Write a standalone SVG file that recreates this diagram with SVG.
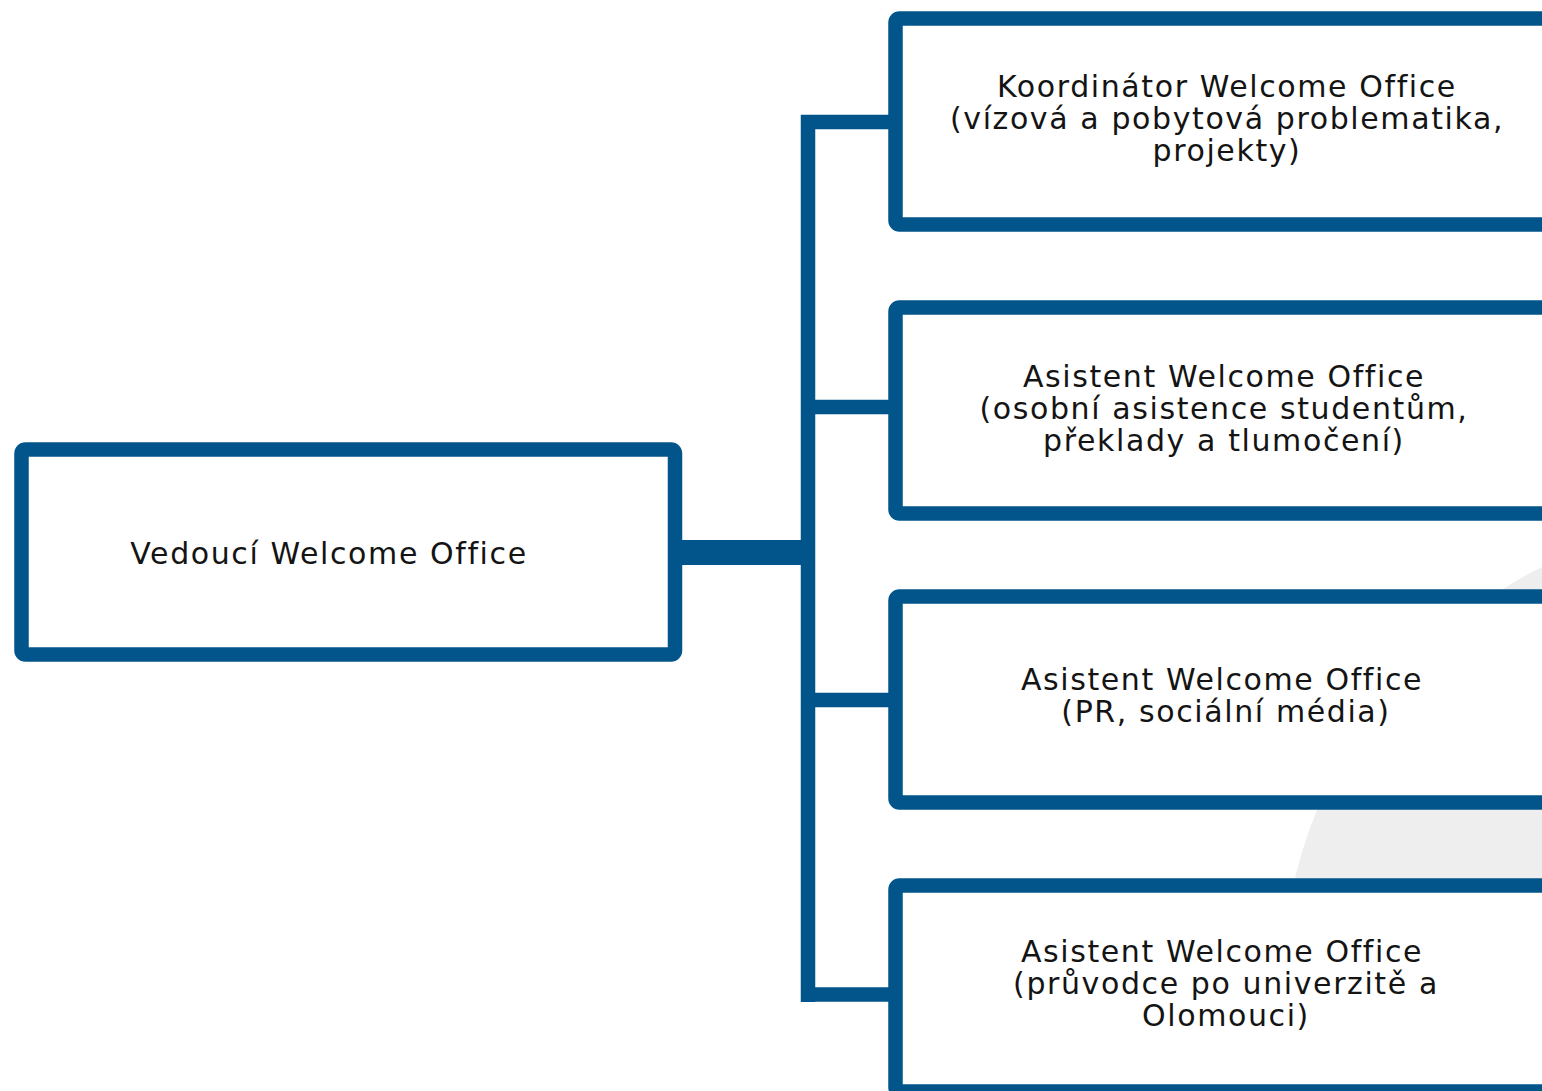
<svg xmlns="http://www.w3.org/2000/svg" width="1542" height="1091" viewBox="0 0 1542 1091">
<style>
.box{fill:#ffffff;stroke:#02558B;stroke-width:14.5;}
.conn{stroke:#02558B;fill:none;}
.t{font-family:"DejaVu Sans","Liberation Sans",sans-serif;font-size:30px;letter-spacing:1.6px;fill:#141414;text-anchor:middle;}
</style>
<rect width="1542" height="1091" fill="#ffffff"/>
<circle cx="1753" cy="988" r="471" fill="#eeeeee"/>
<g id="connectors">
<line class="conn" x1="682" y1="552.5" x2="808" y2="552.5" stroke-width="25"/>
<line class="conn" x1="808" y1="115" x2="808" y2="1002" stroke-width="14.5"/>
<line class="conn" x1="801" y1="122" x2="890" y2="122" stroke-width="14.5"/>
<line class="conn" x1="801" y1="407" x2="890" y2="407" stroke-width="14.5"/>
<line class="conn" x1="801" y1="700" x2="890" y2="700" stroke-width="14.5"/>
<line class="conn" x1="801" y1="994.5" x2="890" y2="994.5" stroke-width="14.5"/>
</g>
<g id="node-vedouci">
<rect class="box" x="21.5" y="449.5" width="653.5" height="205" rx="4"/>
<text class="t" x="329" y="564">Vedoucí Welcome Office</text>
</g>
<g id="node-koordinator">
<rect class="box" x="895.5" y="18.5" width="670" height="206" rx="4"/>
<text class="t" x="1227" y="97">Koordinátor Welcome Office</text>
<text class="t" x="1227" y="129">(vízová a pobytová problematika,</text>
<text class="t" x="1227" y="161">projekty)</text>
</g>
<g id="node-asistent1">
<rect class="box" x="895.5" y="307.5" width="670" height="206" rx="4"/>
<text class="t" x="1224" y="387">Asistent Welcome Office</text>
<text class="t" x="1224" y="419">(osobní asistence studentům,</text>
<text class="t" x="1224" y="451">překlady a tlumočení)</text>
</g>
<g id="node-asistent2">
<rect class="box" x="895.5" y="596.5" width="670" height="206" rx="4"/>
<text class="t" x="1222" y="690">Asistent Welcome Office</text>
<text class="t" x="1226" y="722">(PR, sociální média)</text>
</g>
<g id="node-asistent3">
<rect class="box" x="895.5" y="885.5" width="670" height="206" rx="4"/>
<text class="t" x="1222" y="962">Asistent Welcome Office</text>
<text class="t" x="1226" y="994">(průvodce po univerzitě a</text>
<text class="t" x="1226" y="1026">Olomouci)</text>
</g>
</svg>
